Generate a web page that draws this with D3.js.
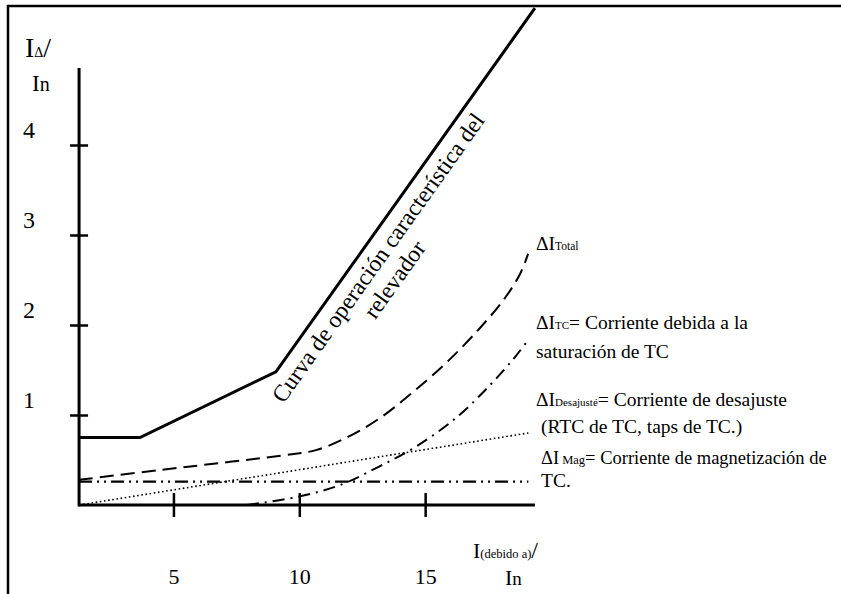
<!DOCTYPE html>
<html>
<head>
<meta charset="utf-8">
<script src="https://cdn.jsdelivr.net/npm/d3@7"></script>
<style>
  body { margin: 0; background: #fff; }
  svg text { font-family: "Liberation Serif", "Times New Roman", "DejaVu Serif", serif; fill: #000; }
</style>
</head>
<body>
<div id="chart"></div>
<script>
/* Values (x in I/In, y in IΔ/In). */
var xTicks = [5, 10, 15];
var yTicks = [1, 2, 3, 4];

var releX = [1.25, 3.67, 9.07, 19.36];
var releY = [0.75, 0.75, 1.48, 5.52];

var totalX = [1.25, 4.5, 7.25, 9.3, 10.66, 11.93, 13.21, 14.52, 15.87, 17.18, 18.17, 18.77, 19.09];
var totalY = [0.28, 0.39, 0.48, 0.55, 0.61, 0.756, 0.967, 1.256, 1.589, 1.967, 2.30, 2.567, 2.79];

var tcX = [7.92, 9.91, 11.62, 13.21, 14.68, 16.27, 17.58, 18.57, 19.09];
var tcY = [0, 0.089, 0.222, 0.433, 0.656, 0.978, 1.333, 1.644, 1.833];

var desX = [1.25, 19.1];
var desY = [0, 0.8];

var magX = [1.25, 19.1];
var magY = [0.26, 0.26];

var xStart = 1.25, xEnd = 19.36;

function pairs(xs, ys) { return xs.map((v, i) => [v, ys[i]]); }

/* Sizing and scales. */
var w = 841,
    h = 594,
    x = d3.scaleLinear([0, 20], [47.6, 551]),
    y = d3.scaleLinear([0, 5], [505, 55]);

var svg = d3.select("#chart").append("svg")
      .attr("width", w)
      .attr("height", h);

/* Frame: top and left edge only. */
svg.append("path")
  .attr("d", "M8,594 L8,6 L841,6")
  .attr("fill", "none")
  .attr("stroke", "#000")
  .attr("stroke-width", 2.5);

/* Axes. */
var gx = svg.append("g")
      .attr("transform", "translate(0," + y(0) + ")")
      .call(d3.axisBottom(x).tickValues(xTicks).tickFormat(d3.format("d")).tickSize(12).tickPadding(51));
gx.attr("font-family", null);
gx.select(".domain").remove();
gx.selectAll(".tick line").attr("y1", -12).attr("y2", 12).attr("stroke-width", 2.5);
gx.selectAll(".tick text").attr("font-size", 22);

var gy = svg.append("g")
      .attr("transform", "translate(" + x(xStart) + ",0)")
      .call(d3.axisLeft(y).tickValues(yTicks).tickFormat(d3.format("d")).tickSize(9));
gy.attr("font-family", null);
gy.select(".domain").remove();
gy.selectAll(".tick line").attr("x1", -9).attr("x2", 9).attr("stroke-width", 2.5);
gy.selectAll(".tick text")
  .attr("text-anchor", "start")
  .attr("x", -56)
  .attr("y", -15)
  .attr("font-size", 24);

svg.append("line")
  .attr("x1", x(xStart)).attr("x2", x(xEnd))
  .attr("y1", y(0)).attr("y2", y(0))
  .attr("stroke", "#000").attr("stroke-width", 3);
svg.append("line")
  .attr("x1", x(xStart)).attr("x2", x(xStart))
  .attr("y1", y(0) + 1.5).attr("y2", 68)
  .attr("stroke", "#000").attr("stroke-width", 3);

/* Curves. */
var line = d3.line().x(d => x(d[0])).y(d => y(d[1]));
var smooth = d3.line().x(d => x(d[0])).y(d => y(d[1])).curve(d3.curveCatmullRom);

var series = [
  {pts: pairs(desX, desY), gen: line, width: 1.6, dash: "1.6,2.6"},
  {pts: pairs(magX, magY), gen: line, width: 2.2, dash: "13,5,2,5,2,5"},
  {pts: pairs(tcX, tcY), gen: smooth, width: 2, dash: "12,6,2,6"},
  {pts: pairs(totalX, totalY), gen: smooth, width: 2, dash: "14,7"},
  {pts: pairs(releX, releY), gen: line, width: 3, dash: null}
];

svg.selectAll("path.curve")
  .data(series)
  .enter().append("path")
  .attr("class", "curve")
  .attr("fill", "none")
  .attr("stroke", "#000")
  .attr("stroke-width", d => d.width)
  .attr("stroke-dasharray", d => d.dash)
  .attr("d", d => d.gen(d.pts));

/* Text with sub-sized runs. */
function rich(g, tx, ty, parts) {
  var t = g.append("text").attr("x", tx).attr("y", ty);
  parts.forEach(p => t.append("tspan").attr("font-size", p[1]).text(p[0]));
  return t;
}

rich(svg, 25, 57, [["I", 28], ["Δ", 14], ["/", 28]]);
rich(svg, 32, 91, [["I", 23], ["n", 20]]);
rich(svg, 473, 558, [["I", 22], ["(debido a)", 12.5], ["/", 24]]);
rich(svg, 505, 585, [["I", 22], ["n", 19]]);

rich(svg, 536, 250, [["ΔI", 19.5], ["Total", 11.5]]);
rich(svg, 536, 329, [["ΔI", 19.5], ["TC", 11], ["= Corriente debida a la", 19.5]]);
rich(svg, 536, 358, [["saturación de TC", 19.5]]);
rich(svg, 536, 406, [["ΔI", 19.5], ["Desajusté", 11], ["= Corriente de desajuste", 19.5]]);
rich(svg, 541, 433, [["(RTC de TC, taps de TC.)", 19.5]]);
rich(svg, 541, 464, [["ΔI", 18.5], [" Mag", 12.5], ["= Corriente de magnetización de", 18.5]]);
rich(svg, 541, 487, [["TC.", 19.5]]);

/* Label along the relay characteristic. */
var k = releX.length - 2,
    p1 = [x(releX[k]), y(releY[k])],
    p2 = [x(releX[k + 1]), y(releY[k + 1])],
    ang = Math.atan2(p2[1] - p1[1], p2[0] - p1[0]) * 180 / Math.PI;

var lab = svg.append("g")
      .attr("transform", "translate(" + p1 + ") rotate(" + ang + ")")
      .attr("font-size", 23.5);
lab.append("text").attr("x", -22).attr("y", 25).text("Curva de operación característica del");
lab.append("text").attr("x", 144).attr("y", 51).attr("text-anchor", "middle").text("relevador");
</script>
</body>
</html>
